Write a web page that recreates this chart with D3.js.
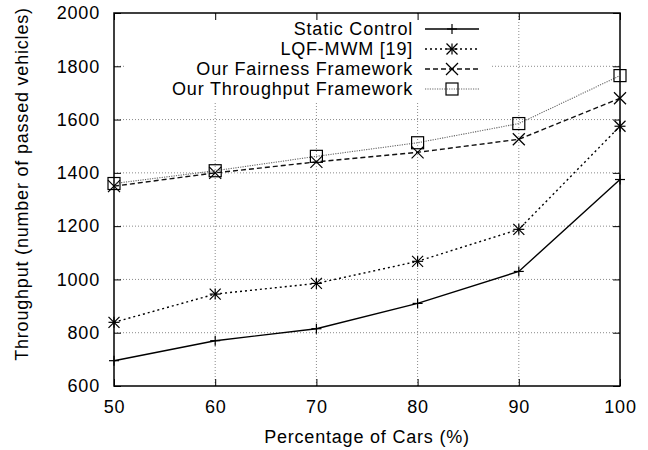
<!DOCTYPE html>
<html>
<head>
<meta charset="utf-8">
<script src="https://cdn.jsdelivr.net/npm/d3@7/dist/d3.min.js"></script>
<style>
  body { margin: 0; background: #fff; }
  svg text { font-family: "Liberation Sans", Arial, sans-serif; font-size: 18px; letter-spacing: 0.8px; fill: #000; }
</style>
</head>
<body>
<svg width="648" height="450"></svg>
<script>
// data
const percentages = [50, 60, 70, 80, 90, 100]
const staticControl = [695, 770, 815, 910, 1030, 1375]
const lqfMwm = [839, 945, 985, 1068, 1188, 1575]
const fairness = [1350, 1400, 1441, 1477, 1526, 1680]
const throughput = [1360, 1408, 1462, 1513, 1585, 1765]
const yTicks = [600, 800, 1000, 1200, 1400, 1600, 1800, 2000]
const xTicks = [50, 60, 70, 80, 90, 100]

const series = [
    { name: 'Static Control', values: staticControl, marker: 'plus', stroke: '#000', dash: null, width: 1.4 },
    { name: 'LQF-MWM [19]', values: lqfMwm, marker: 'star', stroke: '#000', dash: '2,3', width: 1.4 },
    { name: 'Our Fairness Framework', values: fairness, marker: 'cross', stroke: '#111', dash: '5,3', width: 1.4 },
    { name: 'Our Throughput Framework', values: throughput, marker: 'square', stroke: '#666', dash: '1.2,1.2', width: 1.1 }
]

const svg = d3.select('svg')
const plotLeft = 114, plotRight = 620, plotTop = 13, plotBottom = 386

const x = d3.scaleLinear().domain([50, 100]).range([plotLeft, plotRight])
const y = d3.scaleLinear().domain([600, 2000]).range([plotBottom, plotTop])

// grid
const grid = svg.append('g')
    .attr('stroke', '#8a8a8a')
    .attr('stroke-width', 1)
    .attr('stroke-dasharray', '1,2')
grid.selectAll('.gx')
    .data(xTicks.slice(1, -1))
    .join('line')
    .attr('x1', d => x(d)).attr('x2', d => x(d))
    .attr('y1', plotTop).attr('y2', plotBottom)
grid.selectAll('.gy')
    .data(yTicks.slice(1, -1))
    .join('line')
    .attr('x1', plotLeft).attr('x2', plotRight)
    .attr('y1', d => y(d)).attr('y2', d => y(d))

// key box hides the grid under it
svg.append('rect')
    .attr('x', 126).attr('y', plotTop + 1)
    .attr('width', 364).attr('height', 87)
    .attr('fill', '#fff')

// axes with inward ticks on all sides
const tick = 7
svg.append('g')
    .attr('transform', `translate(0,${plotBottom})`)
    .call(d3.axisBottom(x).tickValues(xTicks).tickSize(-tick).tickPadding(14).tickFormat(d3.format('d')))
svg.append('g')
    .attr('transform', `translate(0,${plotTop})`)
    .call(d3.axisTop(x).tickValues(xTicks).tickSize(-tick).tickFormat(''))
svg.append('g')
    .attr('transform', `translate(${plotLeft},0)`)
    .call(d3.axisLeft(y).tickValues(yTicks).tickSize(-tick).tickPadding(14).tickFormat(d3.format('d')))
svg.append('g')
    .attr('transform', `translate(${plotRight},0)`)
    .call(d3.axisRight(y).tickValues(yTicks).tickSize(-tick).tickFormat(''))

svg.selectAll('.domain').remove()
svg.selectAll('.tick line').attr('stroke', '#000').attr('stroke-width', 1)
svg.selectAll('g[font-size]').attr('font-size', null).attr('font-family', null)

svg.append('rect')
    .attr('x', plotLeft).attr('y', plotTop)
    .attr('width', plotRight - plotLeft).attr('height', plotBottom - plotTop)
    .attr('fill', 'none')
    .attr('stroke', '#000')
    .attr('stroke-width', 1.5)

// axis titles
svg.append('text')
    .attr('x', (plotLeft + plotRight) / 2)
    .attr('y', 443)
    .attr('text-anchor', 'middle')
    .text('Percentage of Cars (%)')
svg.append('text')
    .attr('transform', 'translate(28,184) rotate(-90)')
    .attr('text-anchor', 'middle')
    .text('Throughput (number of passed vehicles)')

// markers
function drawMarker(g, type, cx, cy) {
    const m = g.append('g').attr('transform', `translate(${cx},${cy})`)
        .attr('stroke', '#000').attr('stroke-width', 1.2).attr('fill', 'none')
    if (type === 'plus' || type === 'star') {
        const s = type === 'plus' ? 5 : 5.5
        m.append('line').attr('x1', -s).attr('x2', s).attr('y1', 0).attr('y2', 0)
        m.append('line').attr('x1', 0).attr('x2', 0).attr('y1', -s).attr('y2', s)
    }
    if (type === 'cross' || type === 'star') {
        const s = type === 'cross' ? 6 : 5.5
        m.append('line').attr('x1', -s).attr('x2', s).attr('y1', -s).attr('y2', s)
        m.append('line').attr('x1', -s).attr('x2', s).attr('y1', s).attr('y2', -s)
    }
    if (type === 'square') {
        m.append('rect').attr('x', -6).attr('y', -6).attr('width', 12).attr('height', 12)
    }
}

const line = d3.line()
    .x((d, i) => x(percentages[i]))
    .y(d => y(d))

const plot = svg.append('g')
series.forEach(s => {
    plot.append('path')
        .datum(s.values)
        .attr('d', line)
        .attr('fill', 'none')
        .attr('stroke', s.stroke)
        .attr('stroke-width', s.width)
        .attr('stroke-dasharray', s.dash)
    s.values.forEach((v, i) => drawMarker(plot, s.marker, x(percentages[i]), y(v)))
})

// key
const key = svg.append('g')
series.forEach((s, i) => {
    const ky = 29 + i * 20
    key.append('text')
        .attr('x', 413).attr('y', ky)
        .attr('dy', '0.36em')
        .attr('text-anchor', 'end')
        .text(s.name)
    key.append('line')
        .attr('x1', 425).attr('x2', 479)
        .attr('y1', ky).attr('y2', ky)
        .attr('stroke', s.stroke)
        .attr('stroke-width', s.width)
        .attr('stroke-dasharray', s.dash)
    drawMarker(key, s.marker, 452, ky)
})
</script>
</body>
</html>
